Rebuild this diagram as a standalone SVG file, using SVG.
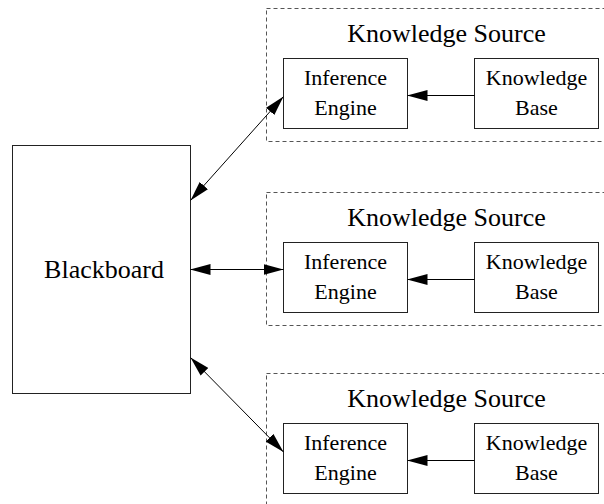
<svg xmlns="http://www.w3.org/2000/svg" width="604" height="504" viewBox="0 0 604 504">
  <style>
    .box { fill: #fff; stroke: #222; stroke-width: 1; }
    .group { fill: none; stroke: #555; stroke-width: 1; stroke-dasharray: 4 3; }
    .edge { fill: none; stroke: #000; stroke-width: 1; }
    .title { font-family: "Liberation Serif", "Times New Roman", serif; font-size: 26px; text-anchor: middle; fill: #000; }
    .label { font-family: "Liberation Serif", "Times New Roman", serif; font-size: 22px; text-anchor: middle; fill: #000; }
  </style>
  <defs>
    <marker id="head" markerUnits="userSpaceOnUse" markerWidth="20" markerHeight="11" refX="20" refY="5.5" orient="auto-start-reverse" viewBox="0 0 20 11">
      <path d="M0,0 L20,5.5 L0,11 z" fill="#000"/>
    </marker>
  </defs>

  <rect width="604" height="504" fill="#fff"/>

  <!-- blackboard -->
  <g id="blackboard">
    <rect class="box" x="12.5" y="145.5" width="178" height="248"/>
    <text class="title" x="104" y="278">Blackboard</text>
  </g>

  <!-- knowledge source 1 -->
  <g id="ks1">
    <rect class="group" x="266.5" y="8.5" width="360" height="133"/>
    <text class="title" x="446.5" y="42">Knowledge Source</text>
    <g id="ks1-engine">
      <rect class="box" x="283.5" y="58.5" width="124" height="70"/>
      <text class="label" x="345.5" y="85">Inference</text>
      <text class="label" x="345.5" y="115">Engine</text>
    </g>
    <g id="ks1-base">
      <rect class="box" x="474.5" y="58.5" width="124" height="70"/>
      <text class="label" x="536.5" y="85">Knowledge</text>
      <text class="label" x="536.5" y="115">Base</text>
    </g>
  </g>

  <!-- knowledge source 2 -->
  <g id="ks2">
    <rect class="group" x="266.5" y="192.5" width="360" height="133"/>
    <text class="title" x="446.5" y="226">Knowledge Source</text>
    <g id="ks2-engine">
      <rect class="box" x="283.5" y="242.5" width="124" height="70"/>
      <text class="label" x="345.5" y="269">Inference</text>
      <text class="label" x="345.5" y="299">Engine</text>
    </g>
    <g id="ks2-base">
      <rect class="box" x="474.5" y="242.5" width="124" height="70"/>
      <text class="label" x="536.5" y="269">Knowledge</text>
      <text class="label" x="536.5" y="299">Base</text>
    </g>
  </g>

  <!-- knowledge source 3 -->
  <g id="ks3">
    <rect class="group" x="266.5" y="373.5" width="360" height="140"/>
    <text class="title" x="446.5" y="407">Knowledge Source</text>
    <g id="ks3-engine">
      <rect class="box" x="283.5" y="423.5" width="124" height="70"/>
      <text class="label" x="345.5" y="450">Inference</text>
      <text class="label" x="345.5" y="480">Engine</text>
    </g>
    <g id="ks3-base">
      <rect class="box" x="474.5" y="423.5" width="124" height="70"/>
      <text class="label" x="536.5" y="450">Knowledge</text>
      <text class="label" x="536.5" y="480">Base</text>
    </g>
  </g>

  <!-- connectors -->
  <g id="edges">
    <line class="edge" x1="190.5" y1="200.5" x2="283.5" y2="96.5" marker-start="url(#head)" marker-end="url(#head)"/>
    <line class="edge" x1="190.5" y1="269.5" x2="283.5" y2="269.5" marker-start="url(#head)" marker-end="url(#head)"/>
    <line class="edge" x1="190.5" y1="357.5" x2="283.5" y2="452" marker-start="url(#head)" marker-end="url(#head)"/>
    <line class="edge" x1="474.5" y1="95.5" x2="407.5" y2="95.5" marker-end="url(#head)"/>
    <line class="edge" x1="474.5" y1="279.5" x2="407.5" y2="279.5" marker-end="url(#head)"/>
    <line class="edge" x1="474.5" y1="460.5" x2="407.5" y2="460.5" marker-end="url(#head)"/>
  </g>
</svg>
